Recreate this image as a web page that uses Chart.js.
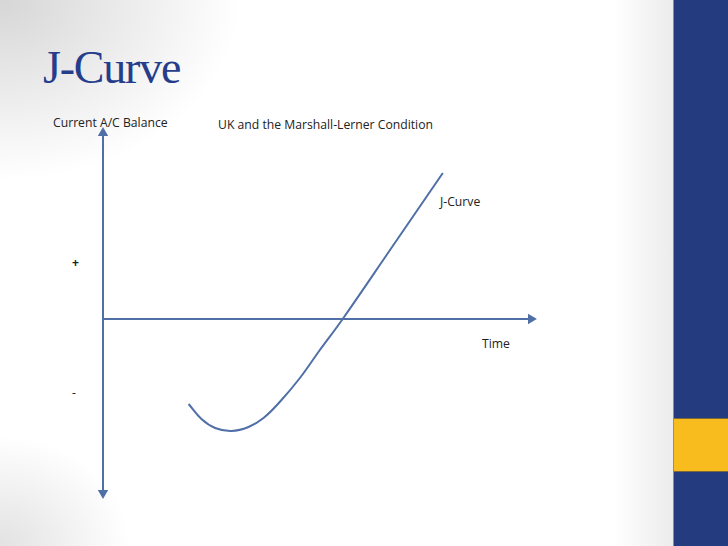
<!DOCTYPE html>
<html>
<head>
<meta charset="utf-8">
<script src="https://cdn.jsdelivr.net/npm/chart.js@4"></script>
<style>
  html, body { margin: 0; padding: 0; }
  body { width: 728px; height: 546px; overflow: hidden; position: relative;
         background: #ffffff; font-family: "Open Sans", "Noto Sans", sans-serif; }
  #slide { position: absolute; left: 0; top: 0; width: 673px; height: 546px;
           background:
             radial-gradient(ellipse 240px 180px at 0px 0px, #d6d6d6 0%, rgba(255,255,255,0) 100%),
             radial-gradient(ellipse 130px 110px at 0px 546px, #e2e2e2 0%, rgba(255,255,255,0) 100%),
             linear-gradient(to left, #ececec 0px, rgba(255,255,255,0) 60px),
             #ffffff; }
  #bar { position: absolute; left: 673px; top: 0; width: 55px; height: 546px;
         background: #253b80; border-left: 1px solid #8a8f9c; }
  #accent { position: absolute; left: 674px; top: 418px; width: 54px; height: 52px;
            background: #f8bc1f; border-top: 1px solid #7a6a3a; border-bottom: 1px solid #7a6a3a; }
  #title { position: absolute; left: 43px; top: 41px; font-family: "Liberation Serif", "DejaVu Serif", serif;
           font-size: 46px; color: #253d8a; letter-spacing: -1.2px; }
  .lbl { position: absolute; font-size: 12.2px; color: #222; white-space: nowrap; }
  canvas { position: absolute; left: 0; top: 0; }
</style>
</head>
<body>
<div id="slide"></div>
<div id="bar"></div>
<div id="accent"></div>
<div id="title">J-Curve</div>
<div class="lbl" style="left:53px; top:114px;">Current A/C Balance</div>
<div class="lbl" style="left:218px; top:116px;">UK and the Marshall-Lerner Condition</div>
<div class="lbl" style="left:440px; top:193px;">J-Curve</div>
<div class="lbl" style="left:482px; top:335px;">Time</div>
<div class="lbl" style="left:72px; top:254px; font-weight:bold;">+</div>
<div class="lbl" style="left:72px; top:384px;">-</div>
<canvas id="jcurve" width="728" height="546"></canvas>
<script>
// J-curve path (time units, balance units)
const curveTime    = [2.0, 2.3, 2.62, 3.0, 3.4, 3.75, 4.15, 4.6, 5.05, 5.6, 6.77, 7.94];
const curveBalance = [-4.25, -5.0, -5.45, -5.6, -5.4, -4.95, -4.1, -2.95, -1.6, 0, 3.65, 7.3];

// axis extents
const timeMin = 0, timeMax = 10;
const balanceMin = -8.7, balanceMax = 9.3;

const lineColor = "#4f6fa6";

const curvePoints = curveTime.map((t, i) => ({ x: t, y: curveBalance[i] }));

new Chart(document.getElementById("jcurve").getContext("2d"), {
  type: "scatter",
  data: {
    datasets: [
      {
        label: "J-Curve",
        data: curvePoints,
        showLine: true,
        borderColor: lineColor,
        borderWidth: 2,
        pointRadius: 0,
        tension: 0.4,
        fill: false,
        clip: false
      },
      {
        label: "Balance axis",
        data: [{ x: timeMin, y: balanceMin }, { x: timeMin, y: balanceMax }],
        showLine: true,
        borderColor: lineColor,
        borderWidth: 2,
        pointStyle: "triangle",
        pointRadius: 4,
        pointRotation: [180, 0],
        pointBackgroundColor: lineColor,
        pointBorderColor: lineColor,
        clip: false
      },
      {
        label: "Time axis",
        data: [{ x: timeMin, y: 0 }, { x: timeMax, y: 0 }],
        showLine: true,
        borderColor: lineColor,
        borderWidth: 2,
        pointStyle: "triangle",
        pointRadius: [0, 4],
        pointRotation: [0, 90],
        pointBackgroundColor: lineColor,
        pointBorderColor: lineColor,
        clip: false
      }
    ]
  },
  options: {
    responsive: false,
    animation: false,
    layout: { padding: { left: 103, right: 197, top: 133, bottom: 53 } },
    scales: {
      x: { type: "linear", min: timeMin, max: timeMax, display: false },
      y: { type: "linear", min: balanceMin, max: balanceMax, display: false }
    },
    plugins: {
      legend: { display: false },
      tooltip: { enabled: false }
    }
  }
});
</script>
</body>
</html>
